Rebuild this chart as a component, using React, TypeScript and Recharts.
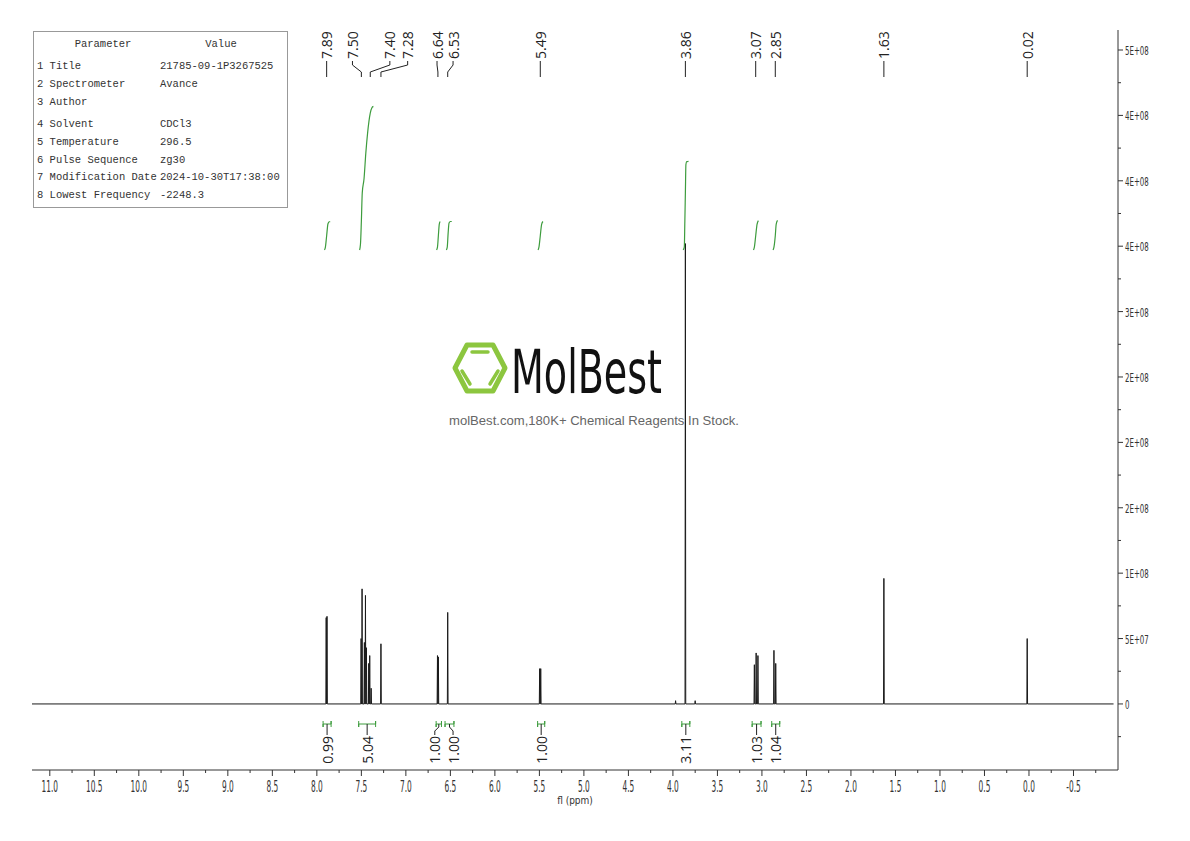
import React from "react";
import { ComposedChart, Line, Scatter, XAxis, YAxis } from "recharts";

// peaks (ppm, intensity)
const peakShifts = [
  7.895, 7.886, 7.503, 7.492, 7.466, 7.454, 7.443, 7.417, 7.406, 7.39, 7.28,
  6.645, 6.635, 6.53, 5.497, 5.485, 3.97, 3.86, 3.75, 3.085, 3.065, 3.045,
  2.865, 2.845, 1.63, 0.02,
];
const peakHeights = [
  66e6, 67e6, 50e6, 88e6, 47e6, 83e6, 43e6, 31e6, 37e6, 12e6, 46e6,
  37e6, 36e6, 70e6, 27e6, 27e6, 2.5e6, 352e6, 2.5e6, 30e6, 39e6, 37e6,
  41e6, 31e6, 96e6, 50e6,
];

const peakLabels = ["7.89", "7.50", "7.40", "7.28", "6.64", "6.53", "5.49", "3.86", "3.07", "2.85", "1.63", "0.02"];

// integrals
const integralLabels = ["0.99", "5.04", "1.00", "1.00", "1.00", "3.11", "1.03", "1.04"];
const integralFrom = [7.93, 7.53, 6.66, 6.56, 5.52, 3.9, 3.11, 2.89];
const integralTo = [7.84, 7.34, 6.6, 6.46, 5.44, 3.81, 3.01, 2.8];
const integralCurves: number[][][] = [
  [[7.915, 0], [7.905, 0.08], [7.89, 0.5], [7.875, 0.92], [7.86, 0.99], [7.85, 0.99]],
  [[7.52, 0], [7.51, 0.2], [7.5, 1.0], [7.49, 2.0], [7.47, 2.5], [7.45, 3.4], [7.43, 4.1], [7.4, 4.8], [7.38, 5.0], [7.365, 5.04]],
  [[6.655, 0], [6.645, 0.1], [6.635, 0.5], [6.625, 0.9], [6.615, 1.0]],
  [[6.545, 0], [6.535, 0.1], [6.525, 0.6], [6.515, 0.95], [6.5, 1.0], [6.485, 1.0]],
  [[5.515, 0], [5.505, 0.1], [5.49, 0.5], [5.475, 0.9], [5.46, 1.0]],
  [[3.885, 0], [3.872, 0.1], [3.866, 1.0], [3.86, 2.0], [3.854, 3.0], [3.845, 3.1], [3.825, 3.11]],
  [[3.095, 0], [3.085, 0.1], [3.07, 0.5], [3.055, 0.9], [3.04, 1.03]],
  [[2.875, 0], [2.865, 0.1], [2.85, 0.5], [2.84, 0.9], [2.825, 1.04]],
];

// axes
const xMajorTicks = [11.0, 10.5, 10.0, 9.5, 9.0, 8.5, 8.0, 7.5, 7.0, 6.5, 6.0, 5.5, 5.0, 4.5, 4.0, 3.5, 3.0, 2.5, 2.0, 1.5, 1.0, 0.5, 0.0, -0.5];
const xMinorTicks = [10.75, 10.25, 9.75, 9.25, 8.75, 8.25, 7.75, 7.25, 6.75, 6.25, 5.75, 5.25, 4.75, 4.25, 3.75, 3.25, 2.75, 2.25, 1.75, 1.25, 0.75, 0.25, -0.25, -0.75];
const yMajorTicks = [0, 5e7, 1e8, 1.5e8, 2e8, 2.5e8, 3e8, 3.5e8, 4e8, 4.5e8, 5e8];
const yTickLabels = ["0", "5E+07", "1E+08", "2E+08", "2E+08", "2E+08", "3E+08", "4E+08", "4E+08", "4E+08", "5E+08"];
const yMinorTicks = [-2.5e7, 2.5e7, 7.5e7, 1.25e8, 1.75e8, 2.25e8, 2.75e8, 3.25e8, 3.75e8, 4.25e8, 4.75e8];

// parameter table
const paramNames = ["1 Title", "2 Spectrometer", "3 Author", "4 Solvent", "5 Temperature", "6 Pulse Sequence", "7 Modification Date", "8 Lowest Frequency"];
const paramValues = ["21785-09-1P3267525", "Avance", "", "CDCl3", "296.5", "zg30", "2024-10-30T17:38:00", "-2248.3"];

// ---- layout ----
const W = 1190;
const H = 841;
const PLOT_TOP = 30;
const PLOT_BOTTOM = 770;
const INK = "#222";
const GREEN = "#3d9c3d";
const TICK_FONT = "'DejaVu Sans Condensed', 'DejaVu Sans', sans-serif";
const LABEL_FONT = "'Open Sans', 'Noto Sans', sans-serif";

// label nudges in ppm where labels are spread apart
const peakLabelNudge: Record<string, number> = { "7.50": 0.1, "7.40": -0.22, "7.28": -0.3, "6.64": 0.01, "6.53": -0.06 };
const integralLabelNudge = [0, 0, 0.045, -0.04, 0, 0, 0, 0];

const spectrum = (() => {
  const order = peakShifts.map((_, i) => i).sort((a, b) => peakShifts[b] - peakShifts[a]);
  const pts = [{ x: 11.2, y: 0 }];
  order.forEach(i => {
    const s = peakShifts[i];
    pts.push({ x: s + 0.004, y: 0 }, { x: s, y: peakHeights[i] }, { x: s - 0.004, y: 0 });
  });
  pts.push({ x: -0.95, y: 0 });
  return pts;
})();

const peakLabelPts = peakLabels.map(l => ({ x: Number(l) + (peakLabelNudge[l] || 0), y: 59, label: l }));
const peakConnectors = peakLabels.map(l => {
  const lx = Number(l) + (peakLabelNudge[l] || 0);
  const px = Number(l);
  return [{ x: lx, y: 61 }, { x: lx, y: 65 }, { x: px, y: 72 }, { x: px, y: 77 }];
});

const integralMid = integralFrom.map((f, i) => (f + integralTo[i]) / 2);
const integralLabelPts = integralLabels.map((l, i) => ({ x: integralMid[i] + integralLabelNudge[i], y: 736, label: l }));
const integralBrackets = integralFrom.map((f, i) => {
  const t = integralTo[i];
  return [{ x: f, y: 721 }, { x: f, y: 727 }, { x: f, y: 724 }, { x: t, y: 724 }, { x: t, y: 721 }, { x: t, y: 727 }];
});
const integralConnectors = integralMid.map((m, i) => {
  const lx = m + integralLabelNudge[i];
  return [{ x: m, y: 724 }, { x: m, y: 727 }, { x: lx, y: 731 }, { x: lx, y: 735 }];
});
const integralData = integralCurves.map(c => c.map(([x, y]) => ({ x, y })));

const XTick = (props: any) => {
  const { x, y, payload } = props;
  const v = payload.value as number;
  const major = xMajorTicks.includes(v);
  return (
    <g>
      <line x1={x} x2={x} y1={y} y2={y + (major ? 6 : 3)} stroke="#333" />
      {major && (
        <text
          transform={`translate(${x},${y + 22}) scale(0.55,1)`}
          textAnchor="middle"
          fontSize={15}
          fontFamily={TICK_FONT}
          fill="#333"
        >
          {v.toFixed(1)}
        </text>
      )}
    </g>
  );
};

const YTick = (props: any) => {
  const { x, y, payload } = props;
  const idx = yMajorTicks.indexOf(payload.value);
  const major = idx >= 0;
  return (
    <g>
      <line x1={x} x2={x + (major ? 5 : 3)} y1={y} y2={y} stroke="#333" />
      {major && (
        <text
          transform={`translate(${x + 7},${y + 5}) scale(0.6,1)`}
          fontSize={13}
          fontFamily={TICK_FONT}
          fill="#333"
        >
          {yTickLabels[idx]}
        </text>
      )}
    </g>
  );
};

const PeakLabel = (p: any) => (
  <text
    x={p.cx}
    y={p.cy}
    transform={`rotate(-90 ${p.cx} ${p.cy})`}
    textAnchor="start"
    dominantBaseline="central"
    fontSize={14}
    fontFamily={LABEL_FONT}
    fill={INK}
  >
    {p.payload.label}
  </text>
);

const IntegralLabel = (p: any) => (
  <text
    x={p.cx}
    y={p.cy}
    transform={`rotate(-90 ${p.cx} ${p.cy})`}
    textAnchor="end"
    dominantBaseline="central"
    fontSize={14}
    fontFamily={LABEL_FONT}
    fill={INK}
  >
    {p.payload.label}
  </text>
);

const Watermark = () => (
  <svg width={W} height={H} style={{ position: "absolute", left: 0, top: 0 }}>
    <polygon
      points="455,368 467,345 493,345 505,368 493,391 467,391"
      fill="none"
      stroke="#8cc63f"
      strokeWidth={5}
      strokeLinejoin="round"
    />
    <line x1={472} y1={352} x2={488} y2={352} stroke="#8cc63f" strokeWidth={3.5} strokeLinecap="round" />
    <line x1={462} y1={371} x2={470} y2={384} stroke="#8cc63f" strokeWidth={3.5} strokeLinecap="round" />
    <line x1={498} y1={371} x2={490} y2={384} stroke="#8cc63f" strokeWidth={3.5} strokeLinecap="round" />
    <text
      x={511}
      y={393}
      fontSize={60}
      fontFamily={TICK_FONT}
      textLength={151}
      lengthAdjust="spacingAndGlyphs"
      fill="#111"
    >
      MolBest
    </text>
    <text
      x={449}
      y={425}
      fontSize={13}
      fontFamily="'Liberation Sans', Arial, sans-serif"
      textLength={290}
      lengthAdjust="spacingAndGlyphs"
      fill="#666"
    >
      molBest.com,180K+ Chemical Reagents In Stock.
    </text>
  </svg>
);

const rowY = [65, 83, 101, 123, 141, 159, 176, 194];

const ParamTable = () => (
  <svg width={300} height={215} style={{ position: "absolute", left: 0, top: 0 }}>
    <rect x={33.5} y={31.5} width={254} height={176} fill="#fff" stroke="#999" />
    <g fontFamily="'Liberation Mono', 'Courier New', monospace" fontSize={10.5} fill="#333">
      <text x={103} y={47} textAnchor="middle">Parameter</text>
      <text x={221} y={47} textAnchor="middle">Value</text>
      {paramNames.map((n, i) => (
        <text key={n} x={37} y={rowY[i] + 4}>{n}</text>
      ))}
      {paramValues.map((v, i) => (
        <text key={i} x={160} y={rowY[i] + 4}>{v}</text>
      ))}
    </g>
  </svg>
);

export default function App() {
  return (
    <div style={{ position: "absolute", left: 0, top: 0, width: W, height: H, background: "#fff" }}>
      <Watermark />
      <div style={{ position: "absolute", left: 0, top: 0 }}>
        <ComposedChart width={W} height={H} margin={{ top: PLOT_TOP, right: 12, left: 32, bottom: H - PLOT_BOTTOM - 50 }}>
          <XAxis
            dataKey="x"
            type="number"
            domain={[-1, 11.2]}
            reversed
            allowDataOverflow
            ticks={[...xMajorTicks, ...xMinorTicks].sort((a, b) => b - a)}
            interval={0}
            tick={XTick}
            tickLine={false}
            tickSize={0}
            tickMargin={0}
            axisLine={{ stroke: "#333" }}
            height={50}
            label={{ value: "fl (ppm)", position: "insideBottom", offset: 16, fontSize: 10, fill: "#333", fontFamily: TICK_FONT }}
          />
          <YAxis
            yAxisId="main"
            dataKey="y"
            orientation="right"
            type="number"
            domain={[-5.05e7, 5.153e8]}
            allowDataOverflow
            ticks={[...yMajorTicks, ...yMinorTicks].sort((a, b) => a - b)}
            interval={0}
            tick={YTick}
            tickLine={false}
            tickSize={0}
            tickMargin={0}
            axisLine={{ stroke: "#333" }}
            width={60}
          />
          <YAxis yAxisId="int" dataKey="y" type="number" domain={[-18.25, 7.72]} allowDataOverflow hide />
          <YAxis yAxisId="px" dataKey="y" type="number" domain={[PLOT_TOP, PLOT_BOTTOM]} reversed allowDataOverflow hide />

          <Line
            yAxisId="main"
            data={spectrum}
            dataKey="y"
            type="linear"
            stroke="#1a1a1a"
            strokeWidth={1}
            dot={false}
            activeDot={false}
            isAnimationActive={false}
          />
          {integralData.map((d, i) => (
            <Line
              key={`int${i}`}
              yAxisId="int"
              data={d}
              dataKey="y"
              type="monotone"
              stroke={GREEN}
              strokeWidth={1.2}
              dot={false}
              activeDot={false}
              isAnimationActive={false}
            />
          ))}
          {peakConnectors.map((d, i) => (
            <Line
              key={`pc${i}`}
              yAxisId="px"
              data={d}
              dataKey="y"
              type="linear"
              stroke={INK}
              strokeWidth={1}
              dot={false}
              activeDot={false}
              isAnimationActive={false}
            />
          ))}
          {integralBrackets.map((d, i) => (
            <Line
              key={`ib${i}`}
              yAxisId="px"
              data={d}
              dataKey="y"
              type="linear"
              stroke={GREEN}
              strokeWidth={1}
              dot={false}
              activeDot={false}
              isAnimationActive={false}
            />
          ))}
          {integralConnectors.map((d, i) => (
            <Line
              key={`ic${i}`}
              yAxisId="px"
              data={d}
              dataKey="y"
              type="linear"
              stroke={INK}
              strokeWidth={1}
              dot={false}
              activeDot={false}
              isAnimationActive={false}
            />
          ))}
          <Scatter yAxisId="px" data={peakLabelPts} dataKey="y" shape={PeakLabel} isAnimationActive={false} />
          <Scatter yAxisId="px" data={integralLabelPts} dataKey="y" shape={IntegralLabel} isAnimationActive={false} />
        </ComposedChart>
      </div>
      <ParamTable />
    </div>
  );
}
